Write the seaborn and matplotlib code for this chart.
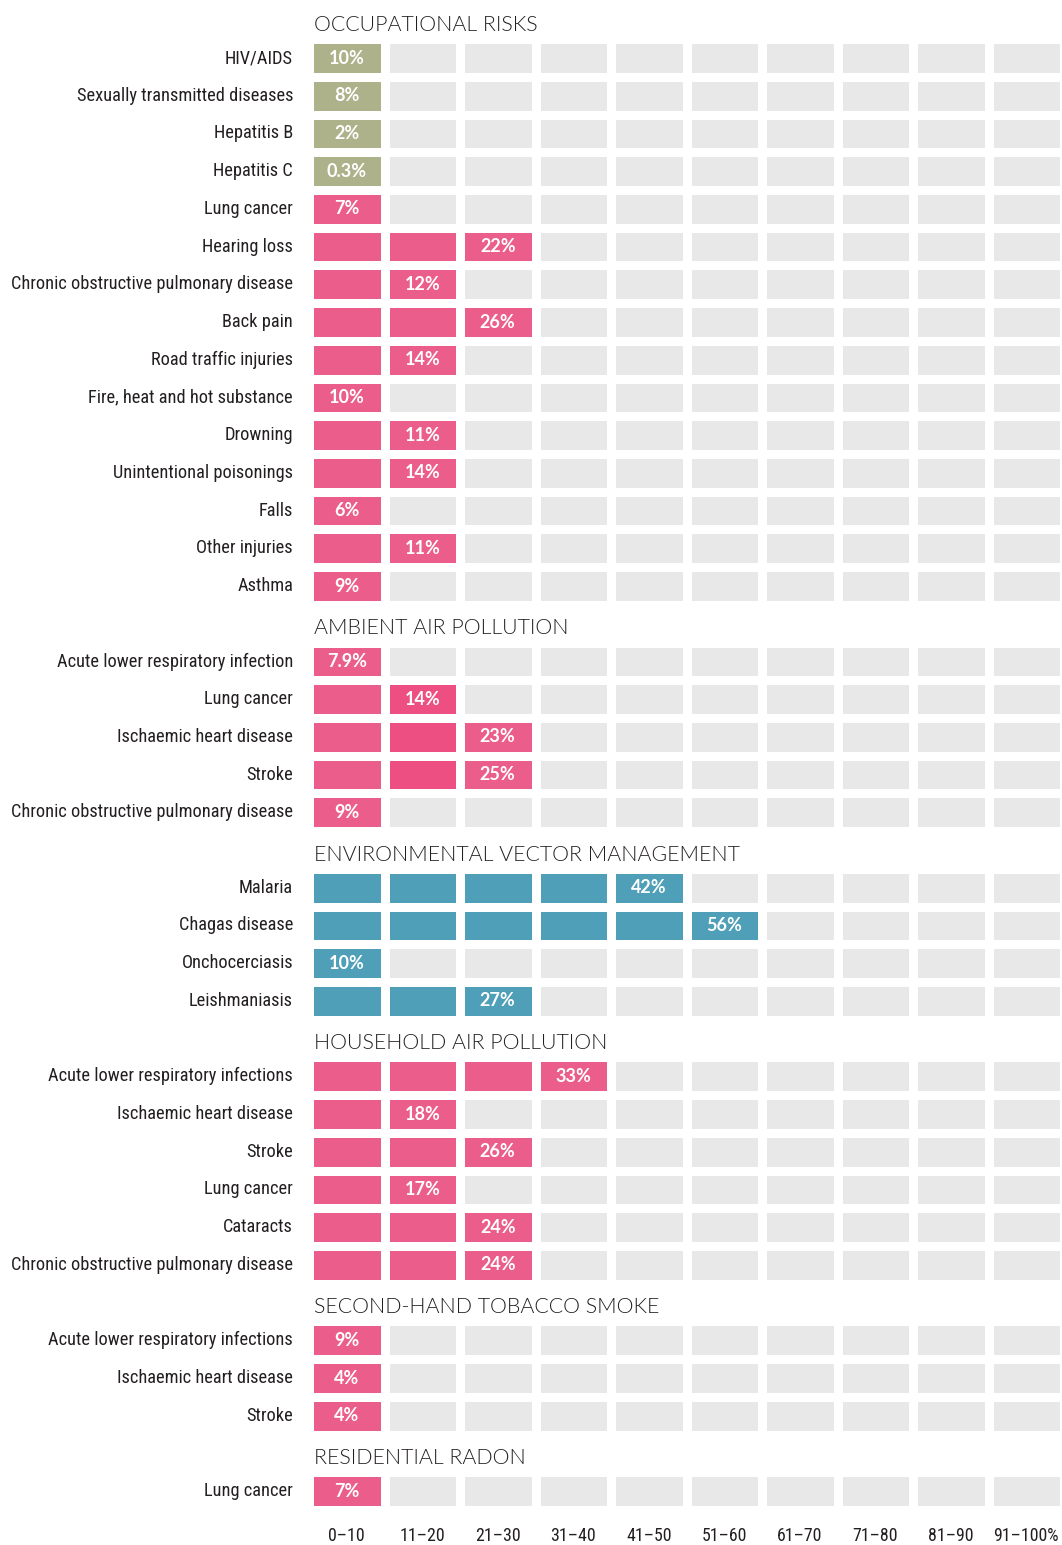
import numpy as np
import matplotlib
matplotlib.use("Agg")
import matplotlib.pyplot as plt
from matplotlib import font_manager
from matplotlib.colors import ListedColormap
import seaborn as sns

# ---- data ----
BINS = ["0–10", "11–20", "21–30", "31–40", "41–50",
        "51–60", "61–70", "71–80", "81–90", "91–100%"]

occupational_labels = [
    "HIV/AIDS", "Sexually transmitted diseases", "Hepatitis B", "Hepatitis C",
    "Lung cancer", "Hearing loss", "Chronic obstructive pulmonary disease",
    "Back pain", "Road traffic injuries", "Fire, heat and hot substance",
    "Drowning", "Unintentional poisonings", "Falls", "Other injuries", "Asthma",
]
occupational_values = [10, 8, 2, 0.3, 7, 22, 12, 26, 14, 10, 11, 14, 6, 11, 9]
occupational_text = ["10%", "8%", "2%", "0.3%", "7%", "22%", "12%", "26%",
                     "14%", "10%", "11%", "14%", "6%", "11%", "9%"]
occupational_colors = ["olive"] * 4 + ["pink"] * 11

ambient_labels = [
    "Acute lower respiratory infection", "Lung cancer", "Ischaemic heart disease",
    "Stroke", "Chronic obstructive pulmonary disease",
]
ambient_values = [7.9, 14, 23, 25, 9]
ambient_text = ["7.9%", "14%", "23%", "25%", "9%"]
ambient_colors = ["pink_dark2"] * 5   # second cell drawn in a deeper pink

vector_labels = ["Malaria", "Chagas disease", "Onchocerciasis", "Leishmaniasis"]
vector_values = [42, 56, 10, 27]
vector_text = ["42%", "56%", "10%", "27%"]
vector_colors = ["teal"] * 4

household_labels = [
    "Acute lower respiratory infections", "Ischaemic heart disease", "Stroke",
    "Lung cancer", "Cataracts", "Chronic obstructive pulmonary disease",
]
household_values = [33, 18, 26, 17, 24, 24]
household_text = ["33%", "18%", "26%", "17%", "24%", "24%"]
household_colors = ["pink"] * 6

tobacco_labels = ["Acute lower respiratory infections", "Ischaemic heart disease", "Stroke"]
tobacco_values = [9, 4, 4]
tobacco_text = ["9%", "4%", "4%"]
tobacco_colors = ["pink"] * 3

radon_labels = ["Lung cancer"]
radon_values = [7]
radon_text = ["7%"]
radon_colors = ["pink"]

sections = [
    ("OCCUPATIONAL RISKS", occupational_labels, occupational_values, occupational_text, occupational_colors),
    ("AMBIENT AIR POLLUTION", ambient_labels, ambient_values, ambient_text, ambient_colors),
    ("ENVIRONMENTAL VECTOR MANAGEMENT", vector_labels, vector_values, vector_text, vector_colors),
    ("HOUSEHOLD AIR POLLUTION", household_labels, household_values, household_text, household_colors),
    ("SECOND-HAND TOBACCO SMOKE", tobacco_labels, tobacco_values, tobacco_text, tobacco_colors),
    ("RESIDENTIAL RADON", radon_labels, radon_values, radon_text, radon_colors),
]

# colour codes for the cells
PALETTE = ["#e8e8e8", "#adb28a", "#eb5e8c", "#ee4f83", "#4f9fb8"]
CODE = {"olive": 1, "pink": 2, "teal": 4}
TEXT_COLOR = "#231f20"


def n_bins(v):
    # 0-10 -> 1 cell, 11-20 -> 2 cells, ...
    return max(1, int(np.ceil(v / 10.0)))


def pick_condensed():
    names = {f.name for f in font_manager.fontManager.ttflist}
    for fam in ["Liberation Sans Narrow", "Roboto Condensed", "Open Sans Condensed",
                "DejaVu Sans Condensed", "Noto Sans Condensed"]:
        if fam in names:
            return fam, "normal"
    # DejaVu Sans Condensed registers as "DejaVu Sans" with condensed stretch
    for f in font_manager.fontManager.ttflist:
        if f.name == "DejaVu Sans" and f.stretch in ("condensed", 300, "semi-condensed"):
            return "DejaVu Sans", "condensed"
    return "DejaVu Sans", "normal"


rows, annots, ylabels, headers = [], [], [], []
for title, labels, values, texts, colors in sections:
    headers.append((len(rows), title))
    rows.append([np.nan] * 10)
    annots.append([""] * 10)
    ylabels.append("")
    for lab, v, t, c in zip(labels, values, texts, colors):
        n = n_bins(v)
        base = CODE.get(c, 2)
        r = [0] * 10
        a = [""] * 10
        for k in range(n):
            r[k] = base
            if c == "pink_dark2" and k == 1:
                r[k] = 3
        a[n - 1] = t
        rows.append(r)
        annots.append(a)
        ylabels.append(lab)

data = np.array(rows, dtype=float)
annot = np.array(annots, dtype=object)

sns.set_theme(style="white")
cond_family, cond_stretch = pick_condensed()
plt.rcParams["font.family"] = [cond_family, "DejaVu Sans"]

W, H = 1062, 1545
fig = plt.figure(figsize=(W / 100, H / 100), dpi=100)
ax = fig.add_axes([309 / W, 1 - 1510 / H, 755 / W, 1508.5 / H])

sns.heatmap(
    data,
    ax=ax,
    cmap=ListedColormap(PALETTE),
    vmin=-0.5,
    vmax=4.5,
    annot=annot,
    fmt="",
    linewidths=6.2,
    linecolor="white",
    cbar=False,
    annot_kws={"color": "white", "fontsize": 13, "fontweight": "bold",
               "family": ["Lato", "DejaVu Sans"]},
)

ax.set_yticks(np.arange(len(ylabels)) + 0.5)
ax.set_yticklabels(ylabels, rotation=0, fontsize=14, color=TEXT_COLOR,
                   fontstretch=cond_stretch)
ax.set_xticks(np.arange(10) + 0.5)
ax.set_xticklabels(BINS, rotation=0, fontsize=14, color=TEXT_COLOR,
                   fontstretch=cond_stretch)
ax.tick_params(axis="both", length=0)
ax.tick_params(axis="y", pad=11.5)
ax.tick_params(axis="x", pad=12)
ax.set_xlabel("")
ax.set_ylabel("")

head_texts = []
for i, title in headers:
    head_texts.append(ax.text(0.06, i + 0.62, title, ha="left", va="center",
                              fontsize=14, fontweight=300, color=TEXT_COLOR,
                              family=["Lato", "DejaVu Sans"]))

# fit the label sizes to the widths measured on the reference
fig.canvas.draw()
rend = fig.canvas.get_renderer()
widest = max(t.get_window_extent(rend).width for t in ax.get_yticklabels())
ysize = 14 * 283.0 / widest
for t in ax.get_yticklabels():
    t.set_fontsize(ysize)
last = ax.get_xticklabels()[-1].get_window_extent(rend).width
xsize = min(14 * 66.0 / last, ysize)
for t in ax.get_xticklabels():
    t.set_fontsize(xsize)
hw = head_texts[0].get_window_extent(rend).width
for t in head_texts:
    t.set_fontsize(14 * 224.0 / hw)

fig.savefig("out.png", dpi=100, facecolor="white")
